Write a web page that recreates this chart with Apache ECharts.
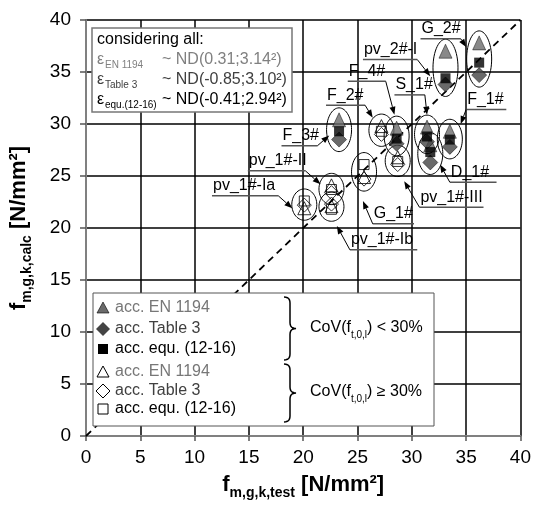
<!DOCTYPE html>
<html>
<head>
<meta charset="utf-8">
<script src="https://cdn.jsdelivr.net/npm/echarts@6/dist/echarts.min.js"></script>
<style>
html, body { margin: 0; padding: 0; background: #fff; }
#main { width: 534px; height: 505px; }
</style>
</head>
<body>
<div id="main"></div>
<script>
// specimen groups, one ellipse each
var groups = ['G_2#', 'pv_2#-I', 'F_1#', 'S_1#', 'D_1#', 'F_4#', 'F_3#', 'F_2#', 'pv_1#-III', 'G_1#', 'pv_1#-II', 'pv_1#-Ib', 'pv_1#-Ia'];
// 1 = CoV(f_t,0,l) < 30 % (filled marks), 0 = >= 30 % (open marks)
var lowCov = [1, 1, 1, 1, 1, 1, 1, 0, 0, 0, 0, 0, 0];
var fTest = [36.2, 33.1, 33.5, 31.4, 31.7, 28.6, 23.3, 27.2, 28.7, 25.6, 22.6, 22.6, 20.1];
var fCalcEN = [37.8, 37.0, 29.3, 29.7, 28.0, 29.6, 30.4, 29.8, 26.8, 24.9, 24.1, 22.1, 21.9];
var fCalcTable3 = [34.7, 33.8, 27.8, 28.3, 26.3, 28.1, 28.5, 29.0, 26.1, 24.7, 23.4, 22.3, 22.2];
var fCalcEqu = [35.9, 34.4, 28.5, 28.8, 27.3, 28.6, 29.3, 29.3, 26.4, 26.1, 23.7, 21.8, 22.6];
var diagonal = [0, 40];

var FONT = '"Liberation Sans", Arial, sans-serif';

// labels with underline and arrow: [text, underline x0, x1, y, arrow x, y, arrow leaves from end?]
var labels = [
  ['G_2#', 30.8, 34.5, 38.2, 35.0, 37.4, 1],
  ['pv_2#-I', 25.5, 30.5, 36.2, 31.7, 34.6, 1],
  ['F_4#', 24.1, 27.6, 34.1, 28.4, 30.9, 1],
  ['S_1#', 28.4, 31.2, 32.8, 31.4, 30.9, 1],
  ['F_2#', 22.1, 25.7, 31.8, 26.4, 30.6, 1],
  ['F_1#', 35.0, 38.7, 31.4, 34.5, 30.0, 0],
  ['F_3#', 18.0, 21.3, 27.9, 22.4, 28.9, 1],
  ['pv_1#-II', 14.9, 20.2, 25.5, 21.6, 24.2, 1],
  ['pv_1#-Ia', 11.6, 17.7, 23.1, 19.0, 21.9, 1],
  ['pv_1#-Ib', 24.3, 30.5, 17.9, 23.1, 20.2, 0],
  ['G_1#', 26.4, 30.2, 20.4, 25.5, 22.6, 0],
  ['pv_1#-III', 30.7, 36.6, 22.0, 29.3, 24.5, 0],
  ['D_1#', 33.5, 37.8, 24.4, 32.6, 26.1, 0]
];

function pick(values, low) {
  var out = [];
  for (var i = 0; i < fTest.length; i++) {
    if (lowCov[i] === low) out.push([fTest[i], values[i]]);
  }
  return out;
}

var ellipseData = groups.map(function (g, i) {
  var ys = [fCalcEN[i], fCalcTable3[i], fCalcEqu[i]];
  return [fTest[i], Math.min.apply(null, ys), Math.max.apply(null, ys)];
});

function renderEllipse(params, api) {
  var top = api.coord([api.value(0), api.value(2)]);
  var bot = api.coord([api.value(0), api.value(1)]);
  var cx = top[0], cy = (top[1] + bot[1]) / 2;
  var ry = (bot[1] - top[1]) / 2 + 12, rx = 12.5;
  var pts = [];
  for (var k = 0; k < 60; k++) {
    var t = k / 60 * Math.PI * 2;
    pts.push([cx + rx * Math.cos(t), cy + ry * Math.sin(t)]);
  }
  return { type: 'polygon', shape: { points: pts }, style: { fill: 'none', stroke: '#000', lineWidth: 1 } };
}

function renderLabel(params, api) {
  var l = labels[params.dataIndex];
  var p0 = api.coord([l[1], l[3]]);
  var p1 = api.coord([l[2], l[3]]);
  var a = api.coord([l[4], l[5]]);
  var s = l[6] ? p1 : p0;
  var dx = a[0] - s[0], dy = a[1] - s[1];
  var len = Math.sqrt(dx * dx + dy * dy);
  dx /= len; dy /= len;
  var bx = a[0] - dx * 8, by = a[1] - dy * 8;
  return {
    type: 'group',
    children: [
      { type: 'line', shape: { x1: p0[0], y1: p0[1], x2: p1[0], y2: p1[1] }, style: { stroke: '#555', lineWidth: 1.5 } },
      { type: 'line', shape: { x1: s[0], y1: s[1], x2: bx, y2: by }, style: { stroke: '#000', lineWidth: 1 } },
      { type: 'polygon', shape: { points: [a, [bx - dy * 3, by + dx * 3], [bx + dy * 3, by - dx * 3]] }, style: { fill: '#000' } },
      { type: 'text', x: p0[0] + 1, y: p0[1] - 2, style: { text: l[0], fill: '#000', fontSize: 16, fontFamily: FONT, align: 'left', verticalAlign: 'bottom' } }
    ]
  };
}

var subRich = {
  a: { fontSize: 16, fontFamily: FONT, lineHeight: 20, verticalAlign: 'top' },
  b: { fontSize: 10, fontFamily: FONT, lineHeight: 12, padding: [10, 0, 0, 0], verticalAlign: 'top' }
};
var nameRich = {
  f: { fontSize: 22, fontWeight: 'bold', fontFamily: FONT, color: '#000', lineHeight: 26, verticalAlign: 'top' },
  s: { fontSize: 14, fontWeight: 'bold', fontFamily: FONT, color: '#000', lineHeight: 16, padding: [12, 0, 0, 0], verticalAlign: 'top' }
};

function txt(x, y, text, color, size) {
  return { type: 'text', x: x, y: y, z: 101, style: { text: text, fill: color, fontSize: size || 16, fontFamily: FONT, verticalAlign: 'middle' } };
}
function brace(x, y0, y1) {
  var ym = (y0 + y1) / 2, pts = [], k, t;
  function q(p0, c, p2, n) {
    for (k = 0; k <= n; k++) {
      t = k / n;
      pts.push([(1 - t) * (1 - t) * p0[0] + 2 * t * (1 - t) * c[0] + t * t * p2[0],
                (1 - t) * (1 - t) * p0[1] + 2 * t * (1 - t) * c[1] + t * t * p2[1]]);
    }
  }
  q([x, y0], [x + 6, y0], [x + 6, y0 + 6], 6);
  q([x + 6, ym - 6], [x + 6, ym], [x + 12, ym], 6);
  q([x + 12, ym], [x + 6, ym], [x + 6, ym + 6], 6);
  q([x + 6, y1 - 6], [x + 6, y1], [x, y1], 6);
  return { type: 'polyline', z: 101, shape: { points: pts }, style: { stroke: '#000', lineWidth: 1.5, fill: 'none' } };
}

var chart = echarts.init(document.getElementById('main'));
var option = {
  animation: false,
  grid: { left: 82, right: 11, top: 20, bottom: 67 },
  xAxis: {
    type: 'value', min: 0, max: 40, interval: 5,
    axisLine: { show: true, onZero: false, lineStyle: { color: '#808080', width: 2 } },
    axisTick: { show: true, length: 5, lineStyle: { color: '#555', width: 1.5 } },
    axisLabel: { color: '#000', fontSize: 19, fontFamily: FONT, margin: 12 },
    splitLine: { show: true, showMinLine: false, lineStyle: { color: '#000', width: 1.5 } },
    name: '{f|f}{s|m,g,k,test}{f| [N/mm²]}',
    nameLocation: 'middle', nameGap: 38,
    nameTextStyle: { rich: nameRich }
  },
  yAxis: {
    type: 'value', min: 0, max: 40, interval: 5,
    axisLine: { show: true, onZero: false, lineStyle: { color: '#808080', width: 2 } },
    axisTick: { show: true, length: 6, lineStyle: { color: '#555', width: 1.5 } },
    axisLabel: { color: '#000', fontSize: 19, fontFamily: FONT, margin: 15 },
    splitLine: { show: true, showMinLine: false, lineStyle: { color: '#000', width: 1.5 } },
    name: '{f|f}{s|m,g,k,calc}{f| [N/mm²]}',
    nameLocation: 'middle', nameGap: 52,
    nameTextStyle: { rich: nameRich }
  },
  series: [
    {
      type: 'line', data: [[diagonal[0], diagonal[0]], [diagonal[1], diagonal[1]]],
      symbol: 'none', silent: true, z: 1,
      lineStyle: { color: '#000', width: 1.8, type: [7, 5] }
    },
    { type: 'custom', renderItem: renderEllipse, data: ellipseData, encode: { x: 0, y: [1, 2] }, z: 3, silent: true },
    { name: 'acc. EN 1194', type: 'scatter', data: pick(fCalcEN, 1), symbol: 'triangle', symbolSize: [13, 14], z: 4,
      itemStyle: { color: '#6b6b6b', borderColor: '#000', borderWidth: 0.6 } },
    { name: 'acc. Table 3', type: 'scatter', data: pick(fCalcTable3, 1), symbol: 'diamond', symbolSize: [15, 15], z: 5,
      itemStyle: { color: '#444', borderColor: '#000', borderWidth: 0.6 } },
    { name: 'acc. equ. (12-16)', type: 'scatter', data: pick(fCalcEqu, 1), symbol: 'rect', symbolSize: 10, z: 6,
      itemStyle: { color: '#000' } },
    { name: 'acc. EN 1194 (open)', type: 'scatter', data: pick(fCalcEN, 0), symbol: 'triangle', symbolSize: [13, 13], z: 4,
      itemStyle: { color: 'rgba(255,255,255,0)', borderColor: '#000', borderWidth: 1 } },
    { name: 'acc. Table 3 (open)', type: 'scatter', data: pick(fCalcTable3, 0), symbol: 'diamond', symbolSize: [14, 14], z: 5,
      itemStyle: { color: 'rgba(255,255,255,0)', borderColor: '#000', borderWidth: 1 } },
    { name: 'acc. equ. (12-16) (open)', type: 'scatter', data: pick(fCalcEqu, 0), symbol: 'rect', symbolSize: 10, z: 6,
      itemStyle: { color: 'rgba(255,255,255,0)', borderColor: '#000', borderWidth: 1 } },
    { type: 'custom', renderItem: renderLabel, data: labels.map(function (l) { return [l[1], l[3]]; }),
      encode: { x: 0, y: 1 }, z: 8, silent: true }
  ],
  graphic: [
    // statistics box
    { type: 'rect', z: 100, shape: { x: 92, y: 28, width: 200, height: 84 }, style: { fill: '#fff', stroke: '#777', lineWidth: 1.5 } },
    txt(97, 40, 'considering all:', '#000'),
    txt(97, 60, 'ε', '#808080'), txt(105, 65, 'EN 1194', '#808080', 10), txt(162, 60, '~ ND(0.31;3.14²)', '#808080'),
    txt(97, 80, 'ε', '#404040'), txt(105, 85, 'Table 3', '#404040', 10), txt(162, 80, '~ ND(-0.85;3.10²)', '#404040'),
    txt(97, 100, 'ε', '#000'), txt(105, 105, 'equ.(12-16)', '#000', 10), txt(162, 100, '~ ND(-0.41;2.94²)', '#000'),
    // legend box
    { type: 'rect', z: 100, shape: { x: 93, y: 293, width: 341, height: 133 }, style: { fill: '#fff', stroke: '#555', lineWidth: 1 } },
    { type: 'polygon', z: 101, shape: { points: [[103, 302], [109, 313], [97, 313]] }, style: { fill: '#6b6b6b', stroke: '#000', lineWidth: 0.6 } },
    { type: 'polygon', z: 101, shape: { points: [[103, 322], [110, 329], [103, 336], [96, 329]] }, style: { fill: '#444' } },
    { type: 'rect', z: 101, shape: { x: 98, y: 344, width: 10, height: 10 }, style: { fill: '#000' } },
    txt(115, 308, 'acc. EN 1194', '#777'),
    txt(115, 329, 'acc. Table 3', '#404040'),
    txt(115, 349, 'acc. equ. (12-16)', '#000'),
    brace(284, 297, 360),
    { type: 'text', x: 310, y: 330, z: 101, style: { text: '{a|CoV(f}{b|t,0,l}{a|) < 30%}', rich: subRich, fill: '#000', verticalAlign: 'middle' } },
    { type: 'polygon', z: 101, shape: { points: [[103, 366], [109, 377], [97, 377]] }, style: { fill: '#fff', stroke: '#000', lineWidth: 1 } },
    { type: 'polygon', z: 101, shape: { points: [[103, 384], [110, 391], [103, 398], [96, 391]] }, style: { fill: '#fff', stroke: '#000', lineWidth: 1 } },
    { type: 'rect', z: 101, shape: { x: 98, y: 404, width: 10, height: 10 }, style: { fill: '#fff', stroke: '#000', lineWidth: 1 } },
    txt(115, 372, 'acc. EN 1194', '#777'),
    txt(115, 391, 'acc. Table 3', '#404040'),
    txt(115, 409, 'acc. equ. (12-16)', '#000'),
    brace(284, 364, 422),
    { type: 'text', x: 310, y: 394, z: 101, style: { text: '{a|CoV(f}{b|t,0,l}{a|) ≥ 30%}', rich: subRich, fill: '#000', verticalAlign: 'middle' } }
  ]
};
chart.setOption(option);
</script>
</body>
</html>
